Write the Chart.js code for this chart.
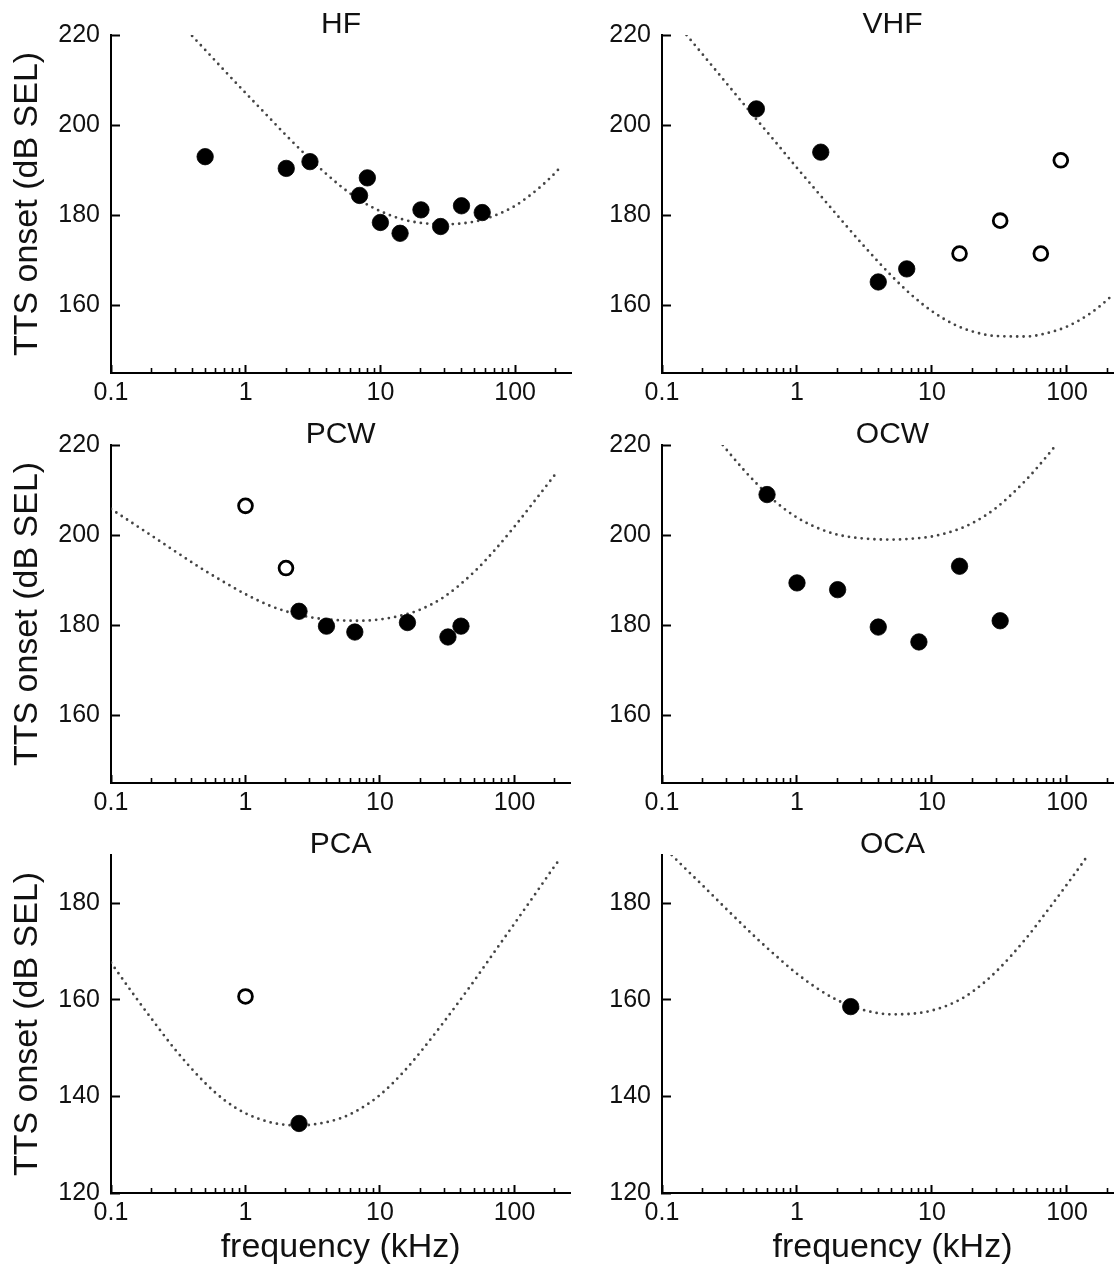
<!DOCTYPE html>
<html>
<head>
<meta charset="utf-8">
<script src="https://cdn.jsdelivr.net/npm/chart.js@4/dist/chart.umd.min.js"></script>
<style>
html, body { margin:0; padding:0; background:#fff; overflow:hidden; width:1114px; height:1270px; }
canvas { position:absolute; }
</style>
</head>
<body>
<canvas id="cHF"  width="580" height="410" style="left:0px;top:0px"></canvas>
<canvas id="cVHF" width="580" height="410" style="left:560px;top:0px"></canvas>
<canvas id="cPCW" width="580" height="410" style="left:0px;top:410px"></canvas>
<canvas id="cOCW" width="580" height="410" style="left:560px;top:410px"></canvas>
<canvas id="cPCA" width="580" height="450" style="left:0px;top:820px"></canvas>
<canvas id="cOCA" width="580" height="450" style="left:560px;top:820px"></canvas>
<script>
// ---------- tick definitions ----------
const xMajorTicks = [0.1, 1, 10, 100];
const xMajorLabels = ['0.1', '1', '10', '100'];
const xMinorTicks = [0.2,0.3,0.4,0.5,0.6,0.7,0.8,0.9, 2,3,4,5,6,7,8,9, 20,30,40,50,60,70,80,90, 200];
const yTicksUpper = [160, 180, 200, 220];
const yTicksLower = [120, 140, 160, 180];

// ---------- HF ----------
const hfFilledFreq = [0.5, 2, 3, 7, 8, 10, 14, 20, 28, 40, 57];
const hfFilledTTS  = [193.0, 190.4, 191.9, 184.4, 188.3, 178.4, 176.0, 181.2, 177.5, 182.1, 180.6];
const hfOpenFreq = [];
const hfOpenTTS  = [];
const hfCurveFreq = [0.4, 0.5, 0.7, 1, 1.5, 2, 3, 5, 7, 10, 15, 20, 30, 50, 70, 100, 150, 200, 210];
const hfCurveTTS  = [219.8, 216.7, 212.0, 207.1, 201.6, 197.7, 192.5, 186.6, 183.4, 180.9, 179.0, 178.3, 178.0, 178.6, 179.9, 182.1, 186.0, 189.5, 190.2];

// ---------- VHF ----------
const vhfFilledFreq = [0.5, 1.5, 4, 6.5];
const vhfFilledTTS  = [203.6, 194.0, 165.2, 168.1];
const vhfOpenFreq = [16, 32, 64, 90];
const vhfOpenTTS  = [171.5, 178.8, 171.5, 192.2];
const vhfCurveFreq = [0.152, 0.2, 0.3, 0.5, 0.7, 1, 1.5, 2, 3, 5, 7, 10, 15, 20, 30, 50, 70, 100, 150, 200, 210];
const vhfCurveTTS  = [220.0, 215.7, 209.3, 201.3, 196.1, 190.5, 184.3, 179.9, 173.8, 166.6, 162.4, 158.7, 155.6, 154.2, 153.2, 153.1, 153.8, 155.3, 158.3, 161.3, 161.9];

// ---------- PCW ----------
const pcwFilledFreq = [2.5, 4, 6.5, 16, 32, 40];
const pcwFilledTTS  = [183.1, 179.8, 178.5, 180.6, 177.4, 179.8];
const pcwOpenFreq = [1, 2];
const pcwOpenTTS  = [206.5, 192.7];
const pcwCurveFreq = [0.1, 0.2, 0.3, 0.5, 0.7, 1, 1.5, 2, 3, 5, 7, 10, 15, 20, 30, 50, 70, 100, 150, 200, 210];
const pcwCurveTTS  = [205.8, 199.9, 196.4, 192.1, 189.5, 186.9, 184.4, 183.1, 181.8, 181.1, 181.0, 181.3, 182.3, 183.5, 186.3, 191.8, 196.4, 201.9, 208.6, 213.4, 214.2];

// ---------- OCW ----------
const ocwFilledFreq = [0.6, 1, 2, 4, 8, 16, 32];
const ocwFilledTTS  = [209.0, 189.4, 187.9, 179.6, 176.3, 193.1, 181.0];
const ocwOpenFreq = [];
const ocwOpenTTS  = [];
const ocwCurveFreq = [0.282, 0.3, 0.4, 0.5, 0.7, 1, 1.5, 2, 3, 5, 7, 10, 15, 20, 30, 50, 70, 83];
const ocwCurveTTS  = [220.0, 219.0, 214.6, 211.5, 207.3, 203.9, 201.3, 200.1, 199.3, 199.0, 199.2, 199.7, 201.1, 202.7, 206.1, 212.3, 217.3, 220.0];

// ---------- PCA ----------
const pcaFilledFreq = [2.5];
const pcaFilledTTS  = [134.4];
const pcaOpenFreq = [1];
const pcaOpenTTS  = [160.7];
const pcaCurveFreq = [0.1, 0.15, 0.2, 0.3, 0.5, 0.7, 1, 1.5, 2, 2.5, 3, 5, 7, 10, 15, 20, 30, 50, 70, 100, 150, 200, 210];
const pcaCurveTTS  = [167.7, 160.8, 156.1, 149.7, 142.8, 139.2, 136.5, 134.7, 134.1, 134.0, 134.1, 135.4, 137.3, 140.3, 145.1, 149.2, 155.5, 163.9, 169.7, 175.8, 182.8, 187.8, 188.6];

// ---------- OCA ----------
const ocaFilledFreq = [2.5];
const ocaFilledTTS  = [158.6];
const ocaOpenFreq = [];
const ocaOpenTTS  = [];
const ocaCurveFreq = [0.118, 0.15, 0.2, 0.3, 0.5, 0.7, 1, 1.5, 2, 2.5, 3, 5, 7, 10, 15, 20, 30, 50, 70, 100, 130, 143];
const ocaCurveTTS  = [190.0, 187.1, 183.7, 178.8, 172.8, 169.1, 165.4, 161.9, 159.9, 158.8, 158.0, 157.0, 157.1, 157.8, 159.6, 161.7, 165.9, 172.8, 178.1, 183.9, 188.3, 190.0];

const panelTitles = ['HF', 'VHF', 'PCW', 'OCW', 'PCA', 'OCA'];
const yAxisTitle = 'TTS onset (dB SEL)';
const xAxisTitle = 'frequency (kHz)';

const FONT = '"Liberation Sans", Arial, Helvetica, sans-serif';
const INK = '#111';

function pts(fs, vs) { return fs.map((f, i) => ({ x: f, y: vs[i] })); }

function build(id, idx, filledF, filledV, openF, openV, curveF, curveV) {
  const col = idx % 2, row = Math.floor(idx / 2);
  const isLeft = col === 0, isBottom = row === 2;
  const yTicks = isBottom ? yTicksLower : yTicksUpper;
  const canvasH = isBottom ? 450 : 410;
  const xH = canvasH - 373;
  const yW = isLeft ? 111 : 102;

  new Chart(document.getElementById(id), {
    type: 'scatter',
    data: {
      datasets: [
        { data: pts(filledF, filledV), pointRadius: 8.2, pointBorderWidth: 0.8,
          pointBackgroundColor: '#000', pointBorderColor: '#000', showLine: false },
        { data: pts(openF, openV), pointRadius: 6.9, pointBorderWidth: 2.8,
          pointBackgroundColor: '#fff', pointBorderColor: '#000', showLine: false },
        { data: pts(curveF, curveV), showLine: true, pointRadius: 0, borderColor: '#444',
          borderWidth: 2.8, borderDash: [0, 6.4], borderCapStyle: 'round',
          cubicInterpolationMode: 'monotone', fill: false }
      ]
    },
    options: {
      responsive: false,
      animation: false,
      devicePixelRatio: 1,
      events: [],
      layout: { padding: { left: 0, right: isLeft ? 8 : 17, top: 0, bottom: 0 } },
      plugins: {
        legend: { display: false },
        tooltip: { enabled: false },
        title: {
          display: true, text: panelTitles[idx], fullSize: false, color: INK,
          font: { family: FONT, size: 30, weight: 'normal', lineHeight: 1 },
          padding: { top: 7, bottom: -5 }
        }
      },
      scales: {
        xm: {
          type: 'logarithmic', position: 'bottom', min: 0.1, max: 260, weight: 0,
          afterBuildTicks: s => { s.ticks = xMinorTicks.map(v => ({ value: v })); },
          afterFit: s => { s.height = 0; },
          ticks: { display: false },
          grid: { display: true, drawOnChartArea: false, drawTicks: true, tickLength: -5,
                  tickWidth: 1.6, tickColor: '#000' },
          border: { display: false }
        },
        x: {
          type: 'logarithmic', position: 'bottom', min: 0.1, max: 260, weight: 1,
          afterBuildTicks: s => { s.ticks = xMajorTicks.map(v => ({ value: v })); },
          afterFit: s => { s.height = xH; },
          ticks: { autoSkip: false, maxRotation: 0, padding: 13, color: INK,
                   font: { family: FONT, size: 25 },
                   callback: (v, i) => xMajorLabels[i] },
          grid: { display: true, drawOnChartArea: false, drawTicks: true, tickLength: -8,
                  tickWidth: 2, tickColor: '#000' },
          border: { display: true, color: '#000', width: 2 },
          title: { display: isBottom, text: xAxisTitle, color: INK,
                   font: { family: FONT, size: 34 }, padding: { top: 0, bottom: 1.5 } }
        },
        y: {
          type: 'linear', position: 'left',
          min: isBottom ? 120 : 145, max: isBottom ? 190 : 220,
          afterBuildTicks: s => { s.ticks = yTicks.map(v => ({ value: v })); },
          afterFit: s => { s.width = yW; },
          ticks: { autoSkip: false, padding: 20, color: INK, font: { family: FONT, size: 25 } },
          grid: { display: true, drawOnChartArea: false, drawTicks: true, tickLength: -9,
                  tickWidth: 2, tickColor: '#000' },
          border: { display: true, color: '#000', width: 2 },
          title: { display: isLeft, text: yAxisTitle, color: INK,
                   font: { family: FONT, size: 34 }, padding: { top: 7, bottom: 0 } }
        }
      }
    }
  });
}

build('cHF', 0, hfFilledFreq, hfFilledTTS, hfOpenFreq, hfOpenTTS, hfCurveFreq, hfCurveTTS);
build('cVHF', 1, vhfFilledFreq, vhfFilledTTS, vhfOpenFreq, vhfOpenTTS, vhfCurveFreq, vhfCurveTTS);
build('cPCW', 2, pcwFilledFreq, pcwFilledTTS, pcwOpenFreq, pcwOpenTTS, pcwCurveFreq, pcwCurveTTS);
build('cOCW', 3, ocwFilledFreq, ocwFilledTTS, ocwOpenFreq, ocwOpenTTS, ocwCurveFreq, ocwCurveTTS);
build('cPCA', 4, pcaFilledFreq, pcaFilledTTS, pcaOpenFreq, pcaOpenTTS, pcaCurveFreq, pcaCurveTTS);
build('cOCA', 5, ocaFilledFreq, ocaFilledTTS, ocaOpenFreq, ocaOpenTTS, ocaCurveFreq, ocaCurveTTS);
</script>
</body>
</html>
